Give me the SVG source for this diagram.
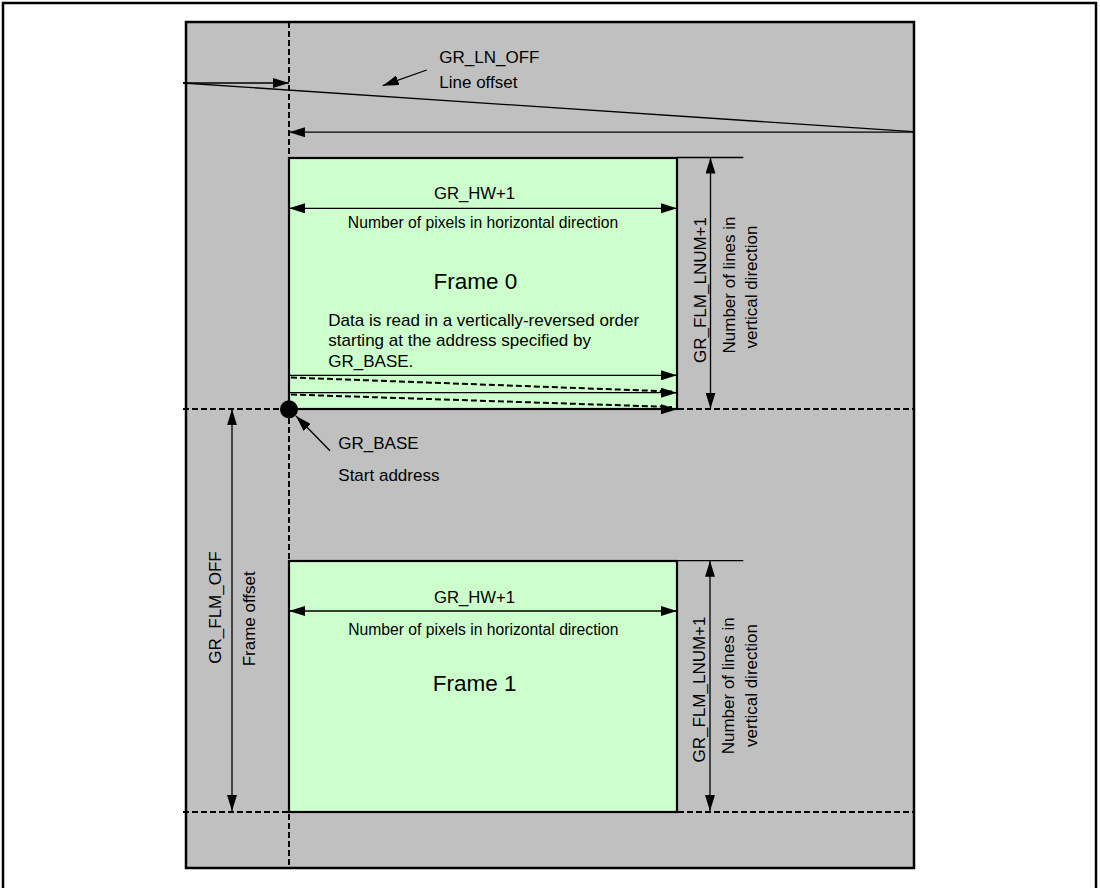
<svg xmlns="http://www.w3.org/2000/svg" width="1100" height="888" viewBox="0 0 1100 888">
<style>
text{font-family:"Liberation Sans",Arial,sans-serif;fill:#000}
.t17{font-size:17px}
.t16{font-size:16.7px}
.t15{font-size:15.7px}
.big{font-size:22.5px}
.thin{stroke:#000;stroke-width:1.3;fill:none}
.dash{stroke:#000;stroke-width:2;stroke-dasharray:6 3;fill:none}
.frame{fill:#ccffcc;stroke:#000;stroke-width:2.2}
.arr{marker-end:url(#ah)}
.arr2{marker-start:url(#ah);marker-end:url(#ah)}
</style>
<defs>
<marker id="ah" markerUnits="userSpaceOnUse" markerWidth="16" markerHeight="10" refX="16" refY="5" orient="auto-start-reverse" viewBox="0 0 16 10">
<path d="M0,0 L16,5 L0,10 z" fill="#000"/>
</marker>
</defs>
<rect x="0" y="0" width="1100" height="888" fill="#fff"/>
<g id="border"><rect x="3" y="3" width="1093" height="900" fill="none" stroke="#000" stroke-width="2.5"/></g>
<g id="memory"><rect x="186" y="22" width="728" height="846" fill="#c0c0c0" stroke="#000" stroke-width="2.5"/></g>
<g id="guides">
<line class="dash" x1="289" y1="22" x2="289" y2="868"/>
<line class="dash" x1="183" y1="409" x2="913" y2="409"/>
<line class="dash" x1="183" y1="812" x2="913" y2="812"/>
</g>
<g id="frame0">
<rect class="frame" x="289" y="158" width="388" height="251"/>
<text class="t16" x="474.5" y="199.3" text-anchor="middle">GR_HW+1</text>
<text class="t15" x="483" y="227.7" text-anchor="middle">Number of pixels in horizontal direction</text>
<text class="big" x="475.5" y="289.3" text-anchor="middle">Frame 0</text>
<text class="t17" x="328.3" y="325.7">Data is read in a vertically-reversed order</text>
<text class="t17" x="328.3" y="346.2">starting at the address specified by</text>
<text class="t17" x="328.3" y="366.7">GR_BASE.</text>
</g>
<g id="frame1">
<rect class="frame" x="289" y="561" width="388" height="251"/>
<text class="t16" x="474.5" y="602.7" text-anchor="middle">GR_HW+1</text>
<text class="t15" x="483.3" y="635" text-anchor="middle">Number of pixels in horizontal direction</text>
<text class="big" x="474.7" y="691" text-anchor="middle">Frame 1</text>
</g>
<g id="connectors">
<line class="thin" x1="183" y1="83" x2="913" y2="131.7"/>
<line class="thin arr" x1="183" y1="83" x2="289" y2="83"/>
<line class="thin arr" x1="913" y1="132.2" x2="289" y2="132.2"/>
<line class="thin arr" x1="426.7" y1="70" x2="382.7" y2="85.7"/>
<line class="thin arr2" x1="289" y1="208.3" x2="677" y2="208.3"/>
<line class="thin arr2" x1="289" y1="611" x2="677" y2="611"/>
<line class="thin arr" x1="289" y1="375.3" x2="677" y2="375.3"/>
<line class="dash" x1="291" y1="377.5" x2="672" y2="391.5"/>
<line class="thin arr" x1="289" y1="392.7" x2="677" y2="392.7"/>
<line class="dash" x1="291" y1="394.5" x2="672" y2="407"/>
<line class="thin arr" x1="289" y1="409.3" x2="677" y2="409.3"/>
<line class="thin" x1="677" y1="157.5" x2="743.3" y2="157.5"/>
<line class="thin arr2" x1="710.5" y1="157.5" x2="710.5" y2="408.5"/>
<line class="thin" x1="677" y1="560.7" x2="743.3" y2="560.7"/>
<line class="thin arr2" x1="710" y1="560.7" x2="710" y2="811"/>
<line class="thin arr2" x1="232" y1="409.3" x2="232" y2="811"/>
<line class="thin arr" x1="330" y1="450.7" x2="296" y2="416"/>
</g>
<g id="gr_base"><circle cx="289" cy="409.3" r="9" fill="#000"/></g>
<g id="labels">
<text class="t17" x="439.3" y="63.3">GR_LN_OFF</text>
<text class="t17" x="439.3" y="87.7">Line offset</text>
<text class="t17" x="338.3" y="449.3">GR_BASE</text>
<text class="t17" x="338.3" y="481">Start address</text>
<text class="t17" transform="translate(220.7,607.5) rotate(-90)" text-anchor="middle">GR_FLM_OFF</text>
<text class="t17" transform="translate(255,618.8) rotate(-90)" text-anchor="middle">Frame offset</text>
<text class="t17" transform="translate(706,290) rotate(-90)" text-anchor="middle">GR_FLM_LNUM+1</text>
<text class="t17" transform="translate(735,285) rotate(-90)" text-anchor="middle">Number of lines in</text>
<text class="t17" transform="translate(757,287) rotate(-90)" text-anchor="middle">vertical direction</text>
<text class="t17" transform="translate(705,689.5) rotate(-90)" text-anchor="middle">GR_FLM_LNUM+1</text>
<text class="t17" transform="translate(734,685.8) rotate(-90)" text-anchor="middle">Number of lines in</text>
<text class="t17" transform="translate(757,685.5) rotate(-90)" text-anchor="middle">vertical direction</text>
</g>
</svg>
